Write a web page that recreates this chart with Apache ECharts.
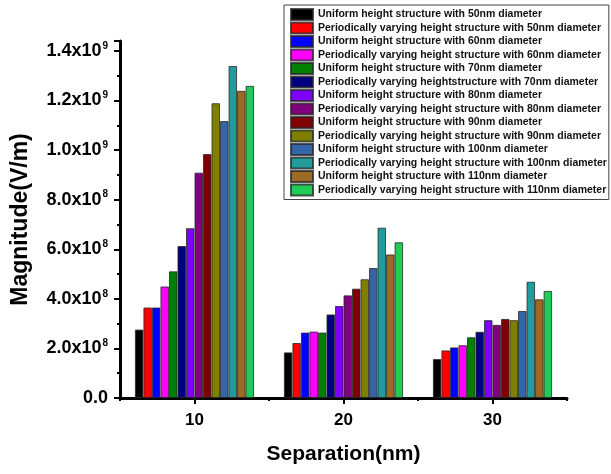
<!DOCTYPE html>
<html>
<head>
<meta charset="utf-8">
<script src="https://cdn.jsdelivr.net/npm/echarts@6/dist/echarts.min.js"></script>
<style>
  html, body { margin: 0; padding: 0; background: #fff; }
  #chart { width: 611px; height: 474px; }
</style>
</head>
<body>
<div id="chart"></div>
<script>
// separation values (nm) on the x axis
const separations = ['10', '20', '30'];

// legend names, one per series
const seriesNames = [
  'Uniform height structure with 50nm diameter',
  'Periodically varying height structure with 50nm diameter',
  'Uniform height structure with 60nm diameter',
  'Periodically varying height structure with 60nm diameter',
  'Uniform height structure with 70nm diameter',
  'Periodically varying heightstructure with 70nm diameter',
  'Uniform height structure with 80nm diameter',
  'Periodically varying height structure with 80nm diameter',
  'Uniform height structure with 90nm diameter',
  'Periodically varying height structure with 90nm diameter',
  'Uniform height structure with 100nm diameter',
  'Periodically varying height structure with 100nm diameter',
  'Uniform height structure with 110nm diameter',
  'Periodically varying height structure with 110nm diameter'
];

// magnitude in units of 1e8 V/m, at separation 10 / 20 / 30 nm
const uniform50  = [2.76, 1.84, 1.57];
const periodic50 = [3.65, 2.22, 1.92];
const uniform60  = [3.65, 2.64, 2.04];
const periodic60 = [4.50, 2.68, 2.13];
const uniform70  = [5.11, 2.64, 2.45];
const periodic70 = [6.13, 3.37, 2.67];
const uniform80  = [6.85, 3.71, 3.14];
const periodic80 = [9.09, 4.14, 2.95];
const uniform90  = [9.84, 4.41, 3.19];
const periodic90 = [11.89, 4.79, 3.14];
const uniform100  = [11.17, 5.24, 3.51];
const periodic100 = [13.39, 6.87, 4.69];
const uniform110  = [12.39, 5.79, 3.98];
const periodic110 = [12.59, 6.28, 4.32];

const seriesValues = [
  uniform50, periodic50, uniform60, periodic60, uniform70, periodic70,
  uniform80, periodic80, uniform90, periodic90, uniform100, periodic100,
  uniform110, periodic110
];

const colors = [
  '#000000', '#ff0000', '#0000ff', '#ff00ff', '#008000', '#000080', '#8000ff',
  '#800080', '#800000', '#808000', '#3465a8', '#219b9b', '#9c6a23', '#1fcc55'
];

const font = 'Liberation Sans, Arial, sans-serif';

const chart = echarts.init(document.getElementById('chart'));

chart.setOption({
  animation: false,
  grid: { left: 120, right: 44, top: 41, bottom: 76, outerBoundsMode: 'none' },
  legend: {
    orient: 'vertical',
    left: 284,
    top: 5,
    padding: [3, 2, 3, 6],
    itemWidth: 22,
    itemHeight: 11,
    itemGap: 0.5,
    borderColor: '#444',
    borderWidth: 1,
    backgroundColor: '#fff',
    icon: 'rect',
    textStyle: { fontFamily: font, fontSize: 10.5, lineHeight: 11, fontWeight: 'bold', color: '#111' },
    data: seriesNames
  },
  xAxis: [
    {
      type: 'category',
      data: separations,
      boundaryGap: true,
      name: 'Separation(nm)',
      nameLocation: 'middle',
      nameGap: 46,
      nameTextStyle: { fontFamily: font, fontSize: 21, fontWeight: 'bold', color: '#000' },
      axisLine: { lineStyle: { color: '#000', width: 3 } },
      axisTick: { show: true, length: 3, lineStyle: { color: '#000', width: 2 } },
      axisLabel: { margin: 14, fontFamily: font, fontSize: 17, fontWeight: 'bold', color: '#000' },
      splitLine: { show: false }
    },
    {
      type: 'category',
      data: separations,
      position: 'bottom',
      boundaryGap: true,
      axisLine: { show: false },
      axisTick: { show: true, alignWithLabel: true, length: 6, lineStyle: { color: '#000', width: 2 } },
      axisLabel: { show: false },
      splitLine: { show: false }
    }
  ],
  yAxis: {
    type: 'value',
    min: 0,
    max: 14.4,
    interval: 2,
    name: 'Magnitude(V/m)',
    nameLocation: 'middle',
    nameRotate: 90,
    nameGap: 88,
    nameTextStyle: { fontFamily: font, fontSize: 23, fontWeight: 'bold', color: '#000' },
    axisLine: { show: true, lineStyle: { color: '#000', width: 3 } },
    axisTick: { show: true, length: 6, lineStyle: { color: '#000', width: 2 } },
    minorTick: { show: true, splitNumber: 2, length: 3, lineStyle: { color: '#000', width: 2 } },
    splitLine: { show: false },
    axisLabel: {
      margin: 12,
      formatter: function (v) {
        if (Math.abs(v / 2 - Math.round(v / 2)) > 1e-6) return '';
        if (v === 0) return '{m|0.0}';
        if (v < 10) return '{m|' + v.toFixed(1) + 'x10}{e|8}';
        return '{m|' + (v / 10).toFixed(1) + 'x10}{e|9}';
      },
      rich: {
        m: { fontFamily: font, fontSize: 18, lineHeight: 20, fontWeight: 'bold', color: '#000' },
        e: { fontFamily: font, fontSize: 10, lineHeight: 10, fontWeight: 'bold', color: '#000', verticalAlign: 'top', padding: [0, 0, 6, 1] }
      }
    }
  },
  series: seriesNames.map(function (name, i) {
    return {
      name: name,
      type: 'bar',
      xAxisIndex: 0,
      barGap: '0%',
      barCategoryGap: '20%',
      data: seriesValues[i],
      itemStyle: { color: colors[i], borderColor: 'rgba(40,40,40,0.8)', borderWidth: 1 }
    };
  })
});
</script>
</body>
</html>
